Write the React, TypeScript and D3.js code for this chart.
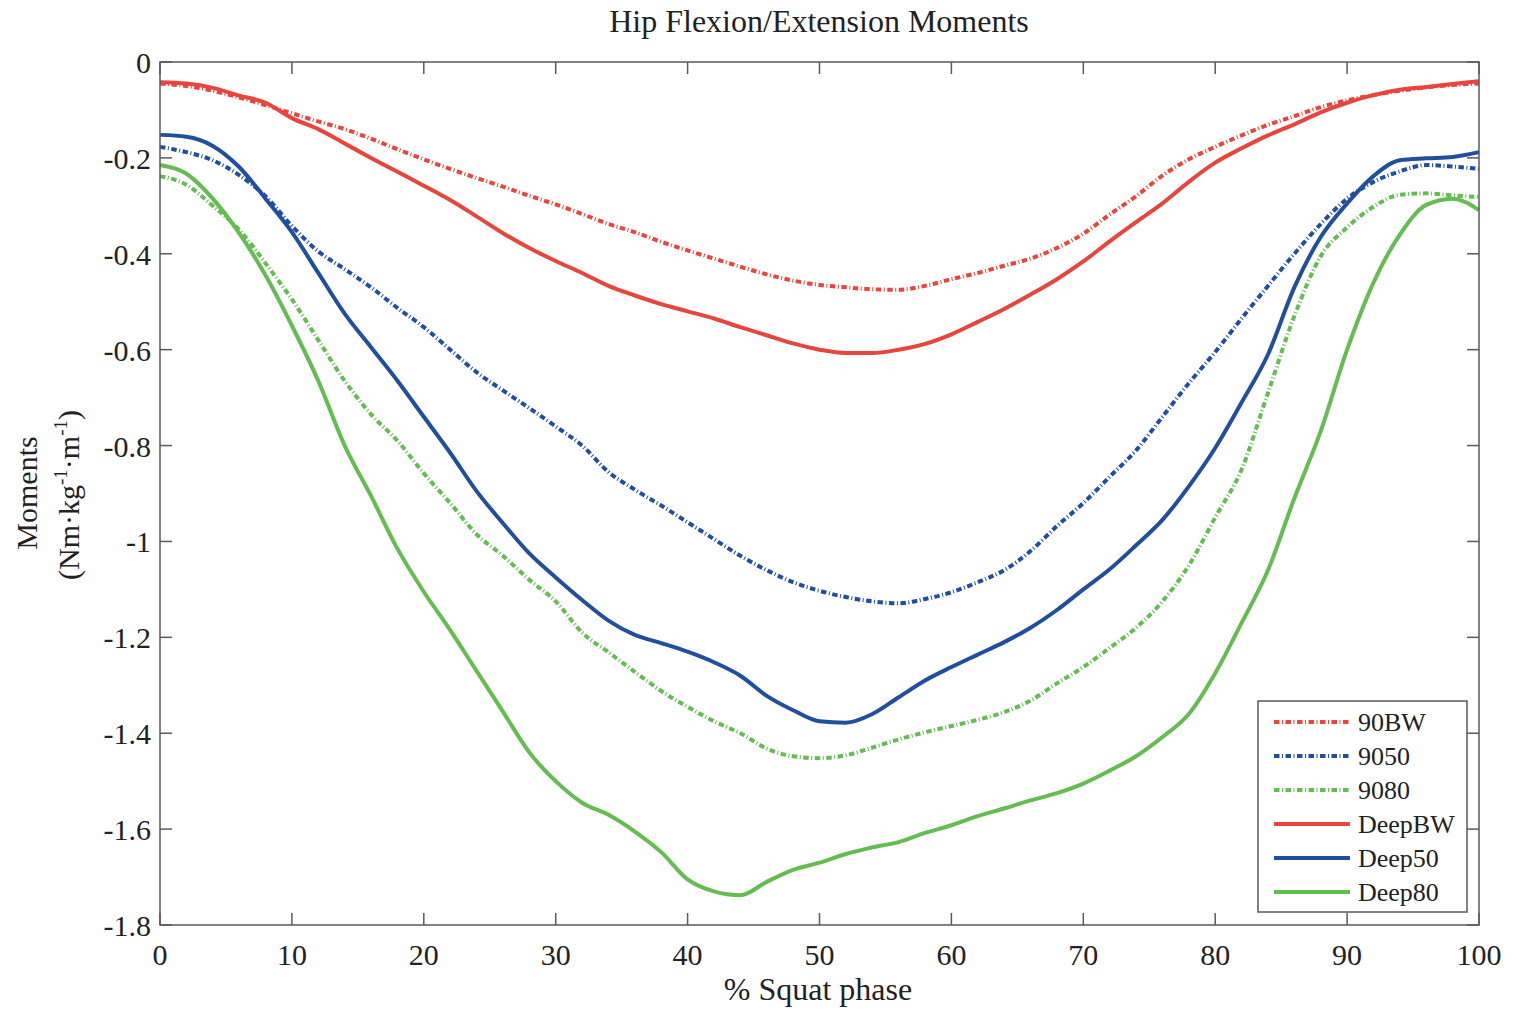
import React from "react";
import * as d3 from "d3";

const phase = [0,2,4,6,8,10,12,14,16,18,20,22,24,26,28,30,32,34,36,38,40,42,44,46,48,50,52,54,56,58,60,62,64,66,68,70,72,74,76,78,80,82,84,86,88,90,92,94,96,98,100];

const s90BW = [-0.045,-0.050,-0.060,-0.074,-0.090,-0.107,-0.124,-0.140,-0.160,-0.182,-0.203,-0.223,-0.242,-0.260,-0.279,-0.297,-0.317,-0.338,-0.355,-0.375,-0.393,-0.410,-0.427,-0.443,-0.456,-0.465,-0.470,-0.474,-0.475,-0.467,-0.453,-0.440,-0.425,-0.410,-0.388,-0.358,-0.318,-0.280,-0.237,-0.203,-0.177,-0.153,-0.131,-0.113,-0.094,-0.080,-0.069,-0.060,-0.053,-0.048,-0.045];

const s9050 = [-0.177,-0.188,-0.205,-0.236,-0.280,-0.342,-0.395,-0.432,-0.470,-0.513,-0.553,-0.600,-0.647,-0.685,-0.722,-0.760,-0.800,-0.855,-0.892,-0.925,-0.960,-0.995,-1.030,-1.060,-1.085,-1.103,-1.116,-1.125,-1.129,-1.120,-1.106,-1.085,-1.060,-1.020,-0.968,-0.920,-0.865,-0.810,-0.740,-0.670,-0.605,-0.535,-0.467,-0.400,-0.338,-0.285,-0.250,-0.228,-0.215,-0.218,-0.223];

const s9080 = [-0.238,-0.256,-0.300,-0.350,-0.420,-0.495,-0.580,-0.665,-0.735,-0.790,-0.858,-0.920,-0.985,-1.030,-1.080,-1.125,-1.190,-1.231,-1.272,-1.312,-1.345,-1.375,-1.400,-1.432,-1.448,-1.452,-1.446,-1.430,-1.413,-1.398,-1.385,-1.372,-1.356,-1.332,-1.296,-1.262,-1.222,-1.180,-1.125,-1.050,-0.950,-0.850,-0.690,-0.530,-0.405,-0.345,-0.302,-0.277,-0.274,-0.278,-0.282];

const sDeepBW = [-0.042,-0.045,-0.054,-0.070,-0.085,-0.117,-0.140,-0.170,-0.200,-0.229,-0.258,-0.288,-0.322,-0.357,-0.388,-0.415,-0.440,-0.467,-0.487,-0.505,-0.520,-0.535,-0.553,-0.570,-0.587,-0.600,-0.607,-0.607,-0.600,-0.588,-0.568,-0.542,-0.515,-0.485,-0.453,-0.416,-0.374,-0.334,-0.295,-0.250,-0.210,-0.180,-0.153,-0.130,-0.105,-0.085,-0.069,-0.058,-0.052,-0.046,-0.040];

const sDeep50 = [-0.152,-0.156,-0.175,-0.219,-0.285,-0.355,-0.440,-0.525,-0.595,-0.665,-0.740,-0.815,-0.895,-0.962,-1.025,-1.075,-1.122,-1.165,-1.195,-1.212,-1.230,-1.252,-1.280,-1.322,-1.352,-1.375,-1.378,-1.360,-1.325,-1.290,-1.262,-1.236,-1.210,-1.180,-1.143,-1.100,-1.058,-1.008,-0.955,-0.885,-0.805,-0.710,-0.610,-0.470,-0.365,-0.295,-0.238,-0.205,-0.201,-0.198,-0.188];

const sDeep80 = [-0.215,-0.233,-0.285,-0.357,-0.445,-0.550,-0.665,-0.800,-0.905,-1.015,-1.105,-1.185,-1.270,-1.355,-1.440,-1.500,-1.545,-1.570,-1.605,-1.648,-1.705,-1.730,-1.738,-1.710,-1.685,-1.670,-1.652,-1.638,-1.627,-1.608,-1.592,-1.573,-1.557,-1.540,-1.525,-1.505,-1.478,-1.448,-1.408,-1.360,-1.275,-1.170,-1.060,-0.910,-0.770,-0.600,-0.460,-0.360,-0.298,-0.285,-0.309];

const seriesNames = ["90BW", "9050", "9080", "DeepBW", "Deep50", "Deep80"];
const seriesValues = [s90BW, s9050, s9080, sDeepBW, sDeep50, sDeep80];
const seriesColors = ["#e8453c", "#1f4f9e", "#63bd50", "#e8453c", "#1f4f9e", "#63bd50"];
const seriesDashed = [true, true, true, false, false, false];

const xTicks = [0,10,20,30,40,50,60,70,80,90,100];
const yTicks = [0,-0.2,-0.4,-0.6,-0.8,-1,-1.2,-1.4,-1.6,-1.8];

const W = 1514, H = 1011;
const L = 160, R = 1479, T = 62, B = 925;
const FONT = "'Liberation Serif', 'Times New Roman', serif";
const AX = "#5a5a5a";
const TXT = "#222";
const DASH = "5.5,2.5,1,2.5";

export default function App() {
  const x = d3.scaleLinear().domain([0, 100]).range([L, R]);
  const y = d3.scaleLinear().domain([-1.8, 0]).range([B, T]);
  const line = d3.line<number>().x((_, i) => x(phase[i])).y(d => y(d)).curve(d3.curveMonotoneX);
  const fmt = (v: number) => (v === 0 ? "0" : String(v));
  const tick = 12;

  const legX = 1258, legY = 701, legW = 209, legH = 211;
  const legRow = 34;

  return (
    <svg width={W} height={H} style={{ position: "absolute", left: 0, top: 0, background: "#fff" }}>
      <rect x={0} y={0} width={W} height={H} fill="#fff" />
      <text x={819} y={32} textAnchor="middle" fontFamily={FONT} fontSize={32} fill={TXT}>
        Hip Flexion/Extension Moments
      </text>

      {xTicks.map(t => (
        <g key={"xt" + t}>
          <line x1={x(t)} x2={x(t)} y1={B} y2={B - tick} stroke={AX} strokeWidth={1.5} />
          <line x1={x(t)} x2={x(t)} y1={T} y2={T + tick} stroke={AX} strokeWidth={1.5} />
          <text x={x(t)} y={965} textAnchor="middle" fontFamily={FONT} fontSize={30} fill={TXT}>{t}</text>
        </g>
      ))}
      {yTicks.map(t => (
        <g key={"yt" + t}>
          <line x1={L} x2={L + tick} y1={y(t)} y2={y(t)} stroke={AX} strokeWidth={1.5} />
          <line x1={R} x2={R - tick} y1={y(t)} y2={y(t)} stroke={AX} strokeWidth={1.5} />
          <text x={151} y={y(t) + 11} textAnchor="end" fontFamily={FONT} fontSize={30} fill={TXT}>{fmt(t)}</text>
        </g>
      ))}

      {seriesValues.map((vals, i) => (
        <path
          key={seriesNames[i]}
          d={line(vals) || ""}
          fill="none"
          stroke={seriesColors[i]}
          strokeWidth={4}
          strokeDasharray={seriesDashed[i] ? DASH : undefined}
          strokeLinejoin="round"
        />
      ))}

      <rect x={L} y={T} width={R - L} height={B - T} fill="none" stroke={AX} strokeWidth={1.5} />

      <text x={818} y={1000} textAnchor="middle" fontFamily={FONT} fontSize={32} fill={TXT}>% Squat phase</text>
      <g transform="translate(37,493) rotate(-90)">
        <text x={0} y={0} textAnchor="middle" fontFamily={FONT} fontSize={30} fill={TXT}>Moments</text>
      </g>
      <g transform="translate(79,495) rotate(-90)">
        <text x={0} y={0} textAnchor="middle" fontFamily={FONT} fontSize={30} fill={TXT}>
          (Nm·kg<tspan fontSize={19} dy={-12}>-1</tspan><tspan dy={12}>·m</tspan><tspan fontSize={19} dy={-12}>-1</tspan><tspan dy={12}>)</tspan>
        </text>
      </g>

      <rect x={legX} y={legY} width={legW} height={legH} fill="#fff" stroke={AX} strokeWidth={1.5} />
      {seriesNames.map((n, i) => {
        const cy = legY + 21 + i * legRow;
        return (
          <g key={"leg" + n}>
            <line x1={1274} x2={1350} y1={cy} y2={cy} stroke={seriesColors[i]} strokeWidth={4}
              strokeDasharray={seriesDashed[i] ? DASH : undefined} />
            <text x={1358} y={cy + 9} fontFamily={FONT} fontSize={26} fill={TXT}>{n}</text>
          </g>
        );
      })}
    </svg>
  );
}
